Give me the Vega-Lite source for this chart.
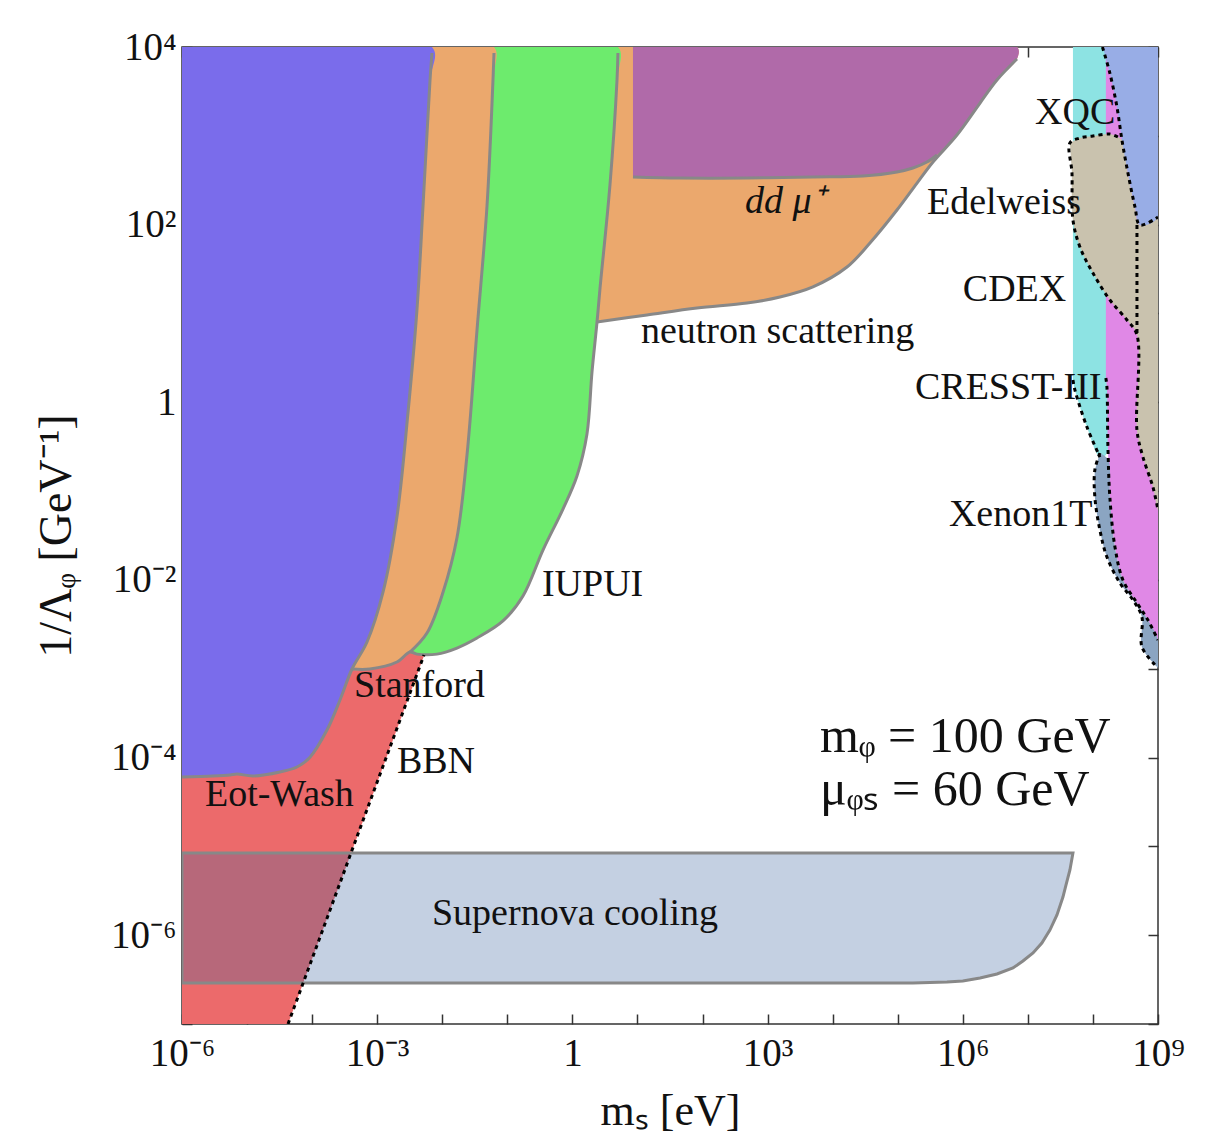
{
"$schema":"https://vega.github.io/schema/vega-lite/v6.json",
"width":976,"height":977,"autosize":"none",
"padding":{"left":182,"top":47,"right":50,"bottom":115},
"background":"white",
"config":{"view":{"stroke":"#333","strokeWidth":1.5},"font":"Liberation Serif",
 "axis":{"labelFont":"Liberation Serif","titleFont":"Liberation Serif","titleFontWeight":"normal","labelColor":"#111","titleColor":"#111","tickColor":"#333","domain":false,"grid":false}},
"datasets":{
"red":[
{"r":"01","i":0,"x":1e-6,"y":5.75e-4},{"r":"01","i":1,"x":4.1e-4,"y":1.43e-3},{"r":"01","i":2,"x":6.04e-3,"y":1.85e-3},{"r":"01","i":3,"x":4.26e-5,"y":1e-7},{"r":"01","i":4,"x":1e-6,"y":1e-7}
],
"polys":[
{"r":"02","i":0,"x":2.65,"y":1e4},{"r":"02","i":1,"x":6.8e6,"y":1e4},{"r":"02","i":2,"x":6.8e6,"y":7330},{"r":"02","i":3,"x":3.35e6,"y":4250},{"r":"02","i":4,"x":1.84e6,"y":2340},{"r":"02","i":5,"x":8.13e5,"y":1020},{"r":"02","i":6,"x":3.48e5,"y":507},{"r":"02","i":7,"x":1.98e5,"y":294},{"r":"02","i":8,"x":9.73e4,"y":146},{"r":"02","i":9,"x":3.74e4,"y":62.1},{"r":"02","i":10,"x":1.66e4,"y":33.3},{"r":"02","i":11,"x":4977,"y":19.9},{"r":"02","i":12,"x":1549,"y":15.3},{"r":"02","i":13,"x":482,"y":13.1},{"r":"02","i":14,"x":82.2,"y":11.5},{"r":"02","i":15,"x":14.0,"y":9.61},{"r":"02","i":16,"x":2.39,"y":8.01},{"r":"02","i":17,"x":1.86,"y":8.01},
{"r":"03","i":0,"x":8.53,"y":1e4},{"r":"03","i":1,"x":6.8e6,"y":1e4},{"r":"03","i":2,"x":6.8e6,"y":7330},{"r":"03","i":3,"x":3.35e6,"y":4250},{"r":"03","i":4,"x":1.84e6,"y":2340},{"r":"03","i":5,"x":8.13e5,"y":1020},{"r":"03","i":6,"x":4.01e5,"y":608},{"r":"03","i":7,"x":2.81e5,"y":507},{"r":"03","i":8,"x":1.71e5,"y":434},{"r":"03","i":9,"x":9.73e4,"y":392},{"r":"03","i":10,"x":2.92e4,"y":353},{"r":"03","i":11,"x":4977,"y":344},{"r":"03","i":12,"x":482,"y":335},{"r":"03","i":13,"x":45.0,"y":335},{"r":"03","i":14,"x":8.53,"y":344},
{"r":"04","i":0,"x":0.0624,"y":1e4},{"r":"04","i":1,"x":5.01,"y":1e4},{"r":"04","i":2,"x":4.84,"y":4140},{"r":"04","i":3,"x":3.78,"y":280},{"r":"04","i":4,"x":2.65,"y":18.8},{"r":"04","i":5,"x":2.39,"y":8.01},{"r":"04","i":6,"x":2.0,"y":2.19},{"r":"04","i":7,"x":1.675,"y":0.44},{"r":"04","i":8,"x":1.175,"y":0.148},{"r":"04","i":9,"x":0.716,"y":0.0628},{"r":"04","i":10,"x":0.353,"y":0.0217},{"r":"04","i":11,"x":0.174,"y":0.00659},{"r":"04","i":12,"x":0.0857,"y":0.00345},{"r":"04","i":13,"x":0.0342,"y":0.00222},{"r":"04","i":14,"x":0.0168,"y":0.00171},{"r":"04","i":15,"x":0.0083,"y":0.00146},{"r":"04","i":16,"x":0.00408,"y":0.00146},{"r":"04","i":17,"x":0.00319,"y":0.00154},{"r":"04","i":18,"x":0.00582,"y":0.00252},{"r":"04","i":19,"x":0.0103,"y":0.00731},{"r":"04","i":20,"x":0.0168,"y":0.0296},{"r":"04","i":21,"x":0.024,"y":0.255},{"r":"04","i":22,"x":0.0342,"y":6.51},{"r":"04","i":23,"x":0.0487,"y":162},{"r":"04","i":24,"x":0.0601,"y":4140},
{"r":"05","i":0,"x":0.00695,"y":1e4},{"r":"05","i":1,"x":0.0624,"y":1e4},{"r":"05","i":2,"x":0.0601,"y":4140},{"r":"05","i":3,"x":0.0487,"y":162},{"r":"05","i":4,"x":0.0342,"y":6.51},{"r":"05","i":5,"x":0.024,"y":0.255},{"r":"05","i":6,"x":0.0168,"y":0.0296},{"r":"05","i":7,"x":0.0103,"y":0.00731},{"r":"05","i":8,"x":0.00582,"y":0.00252},{"r":"05","i":9,"x":0.00319,"y":0.00154},{"r":"05","i":10,"x":0.00201,"y":0.00119},{"r":"05","i":11,"x":7.74e-4,"y":9.93e-4},{"r":"05","i":12,"x":4.1e-4,"y":9.93e-4},{"r":"05","i":13,"x":6.97e-4,"y":0.002},{"r":"05","i":14,"x":0.00123,"y":0.00731},{"r":"05","i":15,"x":0.00201,"y":0.0511},{"r":"05","i":16,"x":0.00297,"y":0.757},{"r":"05","i":17,"x":0.00408,"y":10.9},{"r":"05","i":18,"x":0.00506,"y":162},{"r":"05","i":19,"x":0.00647,"y":4140},
{"r":"06","i":0,"x":1e-6,"y":1e4},{"r":"06","i":1,"x":0.00695,"y":1e4},{"r":"06","i":2,"x":0.00647,"y":4140},{"r":"06","i":3,"x":0.00506,"y":162},{"r":"06","i":4,"x":0.00408,"y":10.9},{"r":"06","i":5,"x":0.00297,"y":0.757},{"r":"06","i":6,"x":0.00201,"y":0.0511},{"r":"06","i":7,"x":0.00123,"y":0.00731},{"r":"06","i":8,"x":6.97e-4,"y":0.002},{"r":"06","i":9,"x":4.1e-4,"y":9.93e-4},{"r":"06","i":10,"x":2.68e-4,"y":4.45e-4},{"r":"06","i":11,"x":1.69e-4,"y":2.04e-4},{"r":"06","i":12,"x":9.27e-5,"y":1.01e-4},{"r":"06","i":13,"x":5.85e-5,"y":7.83e-5},{"r":"06","i":14,"x":3.21e-5,"y":6.88e-5},{"r":"06","i":15,"x":1.23e-5,"y":6.2e-5},{"r":"06","i":16,"x":7.0e-6,"y":6.53e-5},{"r":"06","i":17,"x":5.47e-6,"y":6.37e-5},{"r":"06","i":18,"x":2.99e-6,"y":6.2e-5},{"r":"06","i":19,"x":1e-6,"y":6.04e-5},
{"r":"08","i":0,"x":4.93e7,"y":1e4},{"r":"08","i":1,"x":1.58e8,"y":1e4},{"r":"08","i":2,"x":1.58e8,"y":0.255},{"r":"08","i":3,"x":1.28e8,"y":0.242},{"r":"08","i":4,"x":8.09e7,"y":0.527},{"r":"08","i":5,"x":5.29e7,"y":1.37},{"r":"08","i":6,"x":4.93e7,"y":1.78},
{"r":"09","i":0,"x":1.58e8,"y":1e4},{"r":"09","i":1,"x":1e9,"y":1e4},{"r":"09","i":2,"x":1e9,"y":0.0021},{"r":"09","i":3,"x":7.0e8,"y":0.00354},{"r":"09","i":4,"x":4.75e8,"y":0.0055},{"r":"09","i":5,"x":2.89e8,"y":0.00998},{"r":"09","i":6,"x":2.18e8,"y":0.0235},{"r":"09","i":7,"x":1.82e8,"y":0.0857},{"r":"09","i":8,"x":1.7e8,"y":0.314},{"r":"09","i":9,"x":1.64e8,"y":1.49},{"r":"09","i":10,"x":1.58e8,"y":1.88},
{"r":"10","i":0,"x":4.43e7,"y":830},{"r":"10","i":1,"x":6.31e7,"y":945},{"r":"10","i":2,"x":1.0e8,"y":995},{"r":"10","i":3,"x":1.82e8,"y":1047},{"r":"10","i":4,"x":2.42e8,"y":970},{"r":"10","i":5,"x":2.79e8,"y":897},{"r":"10","i":6,"x":3.45e8,"y":382},{"r":"10","i":7,"x":4.43e8,"y":158},{"r":"10","i":8,"x":5.27e8,"y":99},{"r":"10","i":9,"x":1e9,"y":122},{"r":"10","i":10,"x":1e9,"y":0.0612},{"r":"10","i":11,"x":8.36e8,"y":0.111},{"r":"10","i":12,"x":5.87e8,"y":0.242},{"r":"10","i":13,"x":4.75e8,"y":0.487},{"r":"10","i":14,"x":4.75e8,"y":5.72},{"r":"10","i":15,"x":3.33e8,"y":8.44},{"r":"10","i":16,"x":1.82e8,"y":14.2},{"r":"10","i":17,"x":1.0e8,"y":28.5},{"r":"10","i":18,"x":6.31e7,"y":56.0},{"r":"10","i":19,"x":4.93e7,"y":113},{"r":"10","i":20,"x":4.76e7,"y":382},
{"r":"11","i":0,"x":1.4e8,"y":1e4},{"r":"11","i":1,"x":1e9,"y":1e4},{"r":"11","i":2,"x":1e9,"y":122},{"r":"11","i":3,"x":5.27e8,"y":99},{"r":"11","i":4,"x":4.43e8,"y":158},{"r":"11","i":5,"x":3.45e8,"y":382},{"r":"11","i":6,"x":2.79e8,"y":897},{"r":"11","i":7,"x":2.34e8,"y":2110},{"r":"11","i":8,"x":1.82e8,"y":5090},{"r":"11","i":9,"x":1.43e8,"y":9750},
{"r":"12","i":0,"x":1.28e8,"y":0.268},{"r":"12","i":1,"x":1.72e8,"y":0.224},{"r":"12","i":2,"x":1.82e8,"y":0.0857},{"r":"12","i":3,"x":2.18e8,"y":0.0235},{"r":"12","i":4,"x":2.89e8,"y":0.00998},{"r":"12","i":5,"x":4.75e8,"y":0.0055},{"r":"12","i":6,"x":7.0e8,"y":0.00354},{"r":"12","i":7,"x":1e9,"y":0.0021},{"r":"12","i":8,"x":1e9,"y":0.00102},{"r":"12","i":9,"x":9.64e8,"y":0.00105},{"r":"12","i":10,"x":5.66e8,"y":0.00176},{"r":"12","i":11,"x":5.66e8,"y":0.00382},{"r":"12","i":12,"x":4.12e8,"y":0.00594},{"r":"12","i":13,"x":2.6e8,"y":0.00923},{"r":"12","i":14,"x":1.64e8,"y":0.0181},{"r":"12","i":15,"x":1.28e8,"y":0.0364},{"r":"12","i":16,"x":1.07e8,"y":0.0857},{"r":"12","i":17,"x":1.07e8,"y":0.173}
],
"sn":[
{"i":0,"x":1e-6,"y":8.42e-6},{"i":1,"x":4.93e7,"y":8.42e-6},{"i":2,"x":4.43e7,"y":5.42e-6},{"i":3,"x":3.85e7,"y":3.67e-6},{"i":4,"x":3.46e7,"y":2.69e-6},{"i":5,"x":2.8e7,"y":1.69e-6},{"i":6,"x":2.18e7,"y":1.14e-6},{"i":7,"x":1.64e7,"y":8.16e-7},{"i":8,"x":1.2e7,"y":6.3e-7},{"i":9,"x":8.4e6,"y":5.12e-7},{"i":10,"x":5.9e6,"y":4.27e-7},{"i":11,"x":3.35e6,"y":3.66e-7},{"i":12,"x":1.84e6,"y":3.3e-7},{"i":13,"x":1.0e6,"y":3.05e-7},{"i":14,"x":5.71e5,"y":2.97e-7},{"i":15,"x":1.71e5,"y":2.89e-7},{"i":16,"x":1e-6,"y":2.89e-7}
],
"grey":[
{"g":"g1","i":0,"x":0.00695,"y":8560},{"g":"g1","i":1,"x":0.00647,"y":4140},{"g":"g1","i":2,"x":0.00506,"y":162},{"g":"g1","i":3,"x":0.00408,"y":10.9},{"g":"g1","i":4,"x":0.00297,"y":0.757},{"g":"g1","i":5,"x":0.00201,"y":0.0511},{"g":"g1","i":6,"x":0.00123,"y":0.00731},{"g":"g1","i":7,"x":6.97e-4,"y":0.002},{"g":"g1","i":8,"x":4.1e-4,"y":9.93e-4},{"g":"g1","i":9,"x":2.68e-4,"y":4.45e-4},{"g":"g1","i":10,"x":1.69e-4,"y":2.04e-4},{"g":"g1","i":11,"x":9.27e-5,"y":1.01e-4},{"g":"g1","i":12,"x":5.85e-5,"y":7.83e-5},{"g":"g1","i":13,"x":3.21e-5,"y":6.88e-5},{"g":"g1","i":14,"x":1.23e-5,"y":6.2e-5},{"g":"g1","i":15,"x":7.0e-6,"y":6.53e-5},{"g":"g1","i":16,"x":5.47e-6,"y":6.37e-5},{"g":"g1","i":17,"x":2.99e-6,"y":6.2e-5},{"g":"g1","i":18,"x":1e-6,"y":6.04e-5},
{"g":"g2","i":0,"x":0.0624,"y":8560},{"g":"g2","i":1,"x":0.0601,"y":4140},{"g":"g2","i":2,"x":0.0487,"y":162},{"g":"g2","i":3,"x":0.0342,"y":6.51},{"g":"g2","i":4,"x":0.024,"y":0.255},{"g":"g2","i":5,"x":0.0168,"y":0.0296},{"g":"g2","i":6,"x":0.0103,"y":0.00731},{"g":"g2","i":7,"x":0.00582,"y":0.00252},{"g":"g2","i":8,"x":0.00319,"y":0.00154},
{"g":"g3","i":0,"x":4.1e-4,"y":9.93e-4},{"g":"g3","i":1,"x":7.74e-4,"y":9.93e-4},{"g":"g3","i":2,"x":0.00201,"y":0.00119},{"g":"g3","i":3,"x":0.00319,"y":0.00154},{"g":"g3","i":4,"x":0.00408,"y":0.00146},{"g":"g3","i":5,"x":0.0083,"y":0.00146},{"g":"g3","i":6,"x":0.0168,"y":0.00171},{"g":"g3","i":7,"x":0.0342,"y":0.00222},{"g":"g3","i":8,"x":0.0857,"y":0.00345},{"g":"g3","i":9,"x":0.174,"y":0.00659},{"g":"g3","i":10,"x":0.353,"y":0.0217},{"g":"g3","i":11,"x":0.716,"y":0.0628},{"g":"g3","i":12,"x":1.175,"y":0.148},{"g":"g3","i":13,"x":1.675,"y":0.44},{"g":"g3","i":14,"x":2.0,"y":2.19},{"g":"g3","i":15,"x":2.39,"y":8.01},{"g":"g3","i":16,"x":2.65,"y":18.8},{"g":"g3","i":17,"x":3.78,"y":280},{"g":"g3","i":18,"x":4.84,"y":4140},{"g":"g3","i":19,"x":5.01,"y":8560},
{"g":"g4","i":0,"x":2.39,"y":8.01},{"g":"g4","i":1,"x":14.0,"y":9.61},{"g":"g4","i":2,"x":82.2,"y":11.5},{"g":"g4","i":3,"x":482,"y":13.1},{"g":"g4","i":4,"x":1549,"y":15.3},{"g":"g4","i":5,"x":4977,"y":19.9},{"g":"g4","i":6,"x":1.66e4,"y":33.3},{"g":"g4","i":7,"x":3.74e4,"y":62.1},{"g":"g4","i":8,"x":9.73e4,"y":146},{"g":"g4","i":9,"x":1.98e5,"y":294},{"g":"g4","i":10,"x":3.48e5,"y":507},{"g":"g4","i":11,"x":8.13e5,"y":1020},{"g":"g4","i":12,"x":1.84e6,"y":2340},{"g":"g4","i":13,"x":3.35e6,"y":4250},{"g":"g4","i":14,"x":6.8e6,"y":7330},
{"g":"g5","i":0,"x":8.53,"y":344},{"g":"g5","i":1,"x":45.0,"y":335},{"g":"g5","i":2,"x":482,"y":335},{"g":"g5","i":3,"x":4977,"y":344},{"g":"g5","i":4,"x":2.92e4,"y":353},{"g":"g5","i":5,"x":9.73e4,"y":392},{"g":"g5","i":6,"x":1.71e5,"y":434},{"g":"g5","i":7,"x":2.81e5,"y":507},{"g":"g5","i":8,"x":4.01e5,"y":608}
],
"dots":[
{"g":"d2","i":0,"x":1.4e8,"y":1e4},{"g":"d2","i":1,"x":1.82e8,"y":5090},{"g":"d2","i":2,"x":2.34e8,"y":2110},{"g":"d2","i":3,"x":2.79e8,"y":897},{"g":"d2","i":4,"x":3.45e8,"y":382},{"g":"d2","i":5,"x":4.43e8,"y":158},{"g":"d2","i":6,"x":5.27e8,"y":99},{"g":"d2","i":7,"x":1e9,"y":122},
{"g":"d3","i":0,"x":2.42e8,"y":970},{"g":"d3","i":1,"x":1.82e8,"y":1047},{"g":"d3","i":2,"x":1.0e8,"y":995},{"g":"d3","i":3,"x":6.31e7,"y":945},{"g":"d3","i":4,"x":4.43e7,"y":830},{"g":"d3","i":5,"x":4.76e7,"y":382},{"g":"d3","i":6,"x":4.93e7,"y":113},{"g":"d3","i":7,"x":6.31e7,"y":56.0},{"g":"d3","i":8,"x":1.0e8,"y":28.5},{"g":"d3","i":9,"x":1.82e8,"y":14.2},{"g":"d3","i":10,"x":3.33e8,"y":8.44},{"g":"d3","i":11,"x":4.75e8,"y":5.72},{"g":"d3","i":12,"x":4.75e8,"y":0.487},{"g":"d3","i":13,"x":5.87e8,"y":0.242},{"g":"d3","i":14,"x":8.36e8,"y":0.111},{"g":"d3","i":15,"x":1e9,"y":0.0612},
{"g":"d4","i":0,"x":4.75e8,"y":99},{"g":"d4","i":1,"x":4.75e8,"y":5.72},
{"g":"d5","i":0,"x":4.93e7,"y":1.78},{"g":"d5","i":1,"x":5.29e7,"y":1.37},{"g":"d5","i":2,"x":8.09e7,"y":0.527},{"g":"d5","i":3,"x":1.28e8,"y":0.242},
{"g":"d6","i":0,"x":1.58e8,"y":1.88},{"g":"d6","i":1,"x":1.64e8,"y":1.49},{"g":"d6","i":2,"x":1.7e8,"y":0.314},{"g":"d6","i":3,"x":1.82e8,"y":0.0857},{"g":"d6","i":4,"x":2.18e8,"y":0.0235},{"g":"d6","i":5,"x":2.89e8,"y":0.00998},{"g":"d6","i":6,"x":4.75e8,"y":0.0055},{"g":"d6","i":7,"x":7.0e8,"y":0.00354},{"g":"d6","i":8,"x":1e9,"y":0.0021},
{"g":"d7","i":0,"x":1.28e8,"y":0.268},{"g":"d7","i":1,"x":1.07e8,"y":0.173},{"g":"d7","i":2,"x":1.07e8,"y":0.0857},{"g":"d7","i":3,"x":1.28e8,"y":0.0364},{"g":"d7","i":4,"x":1.64e8,"y":0.0181},{"g":"d7","i":5,"x":2.6e8,"y":0.00923},{"g":"d7","i":6,"x":4.12e8,"y":0.00594},{"g":"d7","i":7,"x":5.66e8,"y":0.00382},{"g":"d7","i":8,"x":5.66e8,"y":0.00176},{"g":"d7","i":9,"x":9.64e8,"y":0.00105}
],
"bbn":[{"i":0,"x":4.26e-5,"y":1e-7},{"i":1,"x":0.00524,"y":0.00143}],
"labels":[
{"x":2.81e5,"y":175,"t":"Edelweiss"},{"x":1.0e6,"y":18.4,"t":"CDEX"},{"x":11.3,"y":6.18,"t":"neutron scattering"},{"x":1.84e5,"y":1.45,"t":"CRESST-III"},{"x":1.29e7,"y":1807,"t":"XQC"},{"x":6.12e5,"y":0.0538,"t":"Xenon1T"},{"x":0.34,"y":0.00877,"t":"IUPUI"},{"x":4.4e-4,"y":6.38e-4,"t":"Stanford"},{"x":0.00201,"y":8.91e-5,"t":"BBN"},{"x":2.25e-6,"y":3.79e-5,"t":"Eot-Wash"},{"x":0.00695,"y":1.73e-6,"t":"Supernova cooling"}
],
"ital":[{"x":449,"y":180,"t":"dd μ⁺"}],
"math":[{"x":6380,"y":1.7e-4,"t":"mᵩ = 100 GeV"},{"x":6380,"y":4.31e-5,"t":"μᵩₛ = 60 GeV"}]
},
"encoding":{
 "x":{"field":"x","type":"quantitative","scale":{"type":"log","domain":[1e-6,1e9],"nice":false},"axis":null},
 "y":{"field":"y","type":"quantitative","scale":{"type":"log","domain":[1e-7,1e4],"nice":false},"axis":null}
},
"layer":[
{"data":{"name":"red"},
 "mark":{"type":"line","filled":true,"interpolate":"linear-closed","strokeWidth":0,"fill":"#ec6a6b","clip":true},
 "encoding":{
  "x":{"field":"x","type":"quantitative","scale":{"type":"log","domain":[1e-6,1e9],"nice":false},
   "axis":{"orient":"bottom","values":[1e-6,1e-5,1e-4,1e-3,1e-2,1e-1,1,10,100,1000,1e4,1e5,1e6,1e7,1e8,1e9],
    "labelExpr":"['10⁻⁶','','','10⁻³','','','1','','','10³','','','10⁶','','','10⁹'][round(log(datum.value)/LN10)+6]",
    "labelOverlap":false,"labelFlush":false,"tickSize":-10,"tickWidth":1.5,"labelFontSize":39,"labelPadding":20,
    "title":"mₛ [eV]","titleFontSize":44,"titlePadding":16}},
  "y":{"field":"y","type":"quantitative","scale":{"type":"log","domain":[1e-7,1e4],"nice":false},
   "axis":{"orient":"left","values":[1e-7,1e-6,1e-5,1e-4,1e-3,1e-2,1e-1,1,10,100,1000,1e4],
    "labelExpr":"['','10⁻⁶','','10⁻⁴','','10⁻²','','1','','10²','','10⁴'][round(log(datum.value)/LN10)+7]",
    "labelOverlap":false,"labelFlush":false,"tickSize":-10,"tickWidth":1.5,"labelFontSize":39,"labelPadding":16,
    "title":"1/Λᵩ [GeV⁻¹]","titleFontSize":46,"titlePadding":30}},
  "order":{"field":"i","type":"quantitative"}
 }},
{"data":{"name":"polys"},
 "mark":{"type":"line","filled":true,"interpolate":"catmull-rom","strokeWidth":0,"clip":true},
 "encoding":{
  "detail":{"field":"r"},
  "order":{"field":"i","type":"quantitative"},
  "fill":{"field":"r","type":"nominal","legend":null,
   "scale":{"domain":["02","03","04","05","06","08","09","10","11","12"],
    "range":["#eba86d","#b06aa9","#6deb6d","#eba86d","#7a6ceb","#8de3e3","#e088e6","#c9c2ae","#98ade6","#8ba5c2"]}}
 }},
{"data":{"name":"sn"},
 "mark":{"type":"line","filled":true,"interpolate":"linear-closed","fill":"#3a64a0","fillOpacity":0.3,"stroke":"#888888","strokeWidth":3,"clip":true},
 "encoding":{"order":{"field":"i","type":"quantitative"}}},
{"data":{"name":"grey"},
 "mark":{"type":"line","stroke":"#888888","strokeWidth":3,"interpolate":"catmull-rom","clip":true},
 "encoding":{
  "x":{"field":"x","type":"quantitative","scale":{"type":"log","domain":[1e-6,1e9],"nice":false},
   "axis":{"orient":"top","values":[1e-6,1e-5,1e-4,1e-3,1e-2,1e-1,1,10,100,1000,1e4,1e5,1e6,1e7,1e8,1e9],"labels":false,"tickSize":-10,"tickWidth":1.5,"title":null}},
  "y":{"field":"y","type":"quantitative","scale":{"type":"log","domain":[1e-7,1e4],"nice":false},
   "axis":{"orient":"right","values":[1e-7,1e-6,1e-5,1e-4,1e-3,1e-2,1e-1,1,10,100,1000,1e4],"labels":false,"tickSize":-10,"tickWidth":1.5,"title":null}},
  "detail":{"field":"g"},"order":{"field":"i","type":"quantitative"}}},
{"data":{"name":"dots"},
 "mark":{"type":"line","stroke":"#000000","strokeWidth":3,"strokeDash":[4,4],"interpolate":"catmull-rom","clip":true},
 "encoding":{"detail":{"field":"g"},"order":{"field":"i","type":"quantitative"}}},
{"data":{"name":"bbn"},
 "mark":{"type":"line","stroke":"#000000","strokeWidth":3,"strokeDash":[4,4],"clip":true},
 "encoding":{"order":{"field":"i","type":"quantitative"}}},
{"data":{"name":"labels"},
 "mark":{"type":"text","align":"left","baseline":"middle","fontSize":38,"font":"Liberation Serif","color":"#111"},
 "encoding":{"text":{"field":"t"}}},
{"data":{"name":"ital"},
 "mark":{"type":"text","align":"left","baseline":"middle","fontSize":38,"fontStyle":"italic","font":"Liberation Serif","color":"#111"},
 "encoding":{"text":{"field":"t"}}},
{"data":{"name":"math"},
 "mark":{"type":"text","align":"left","baseline":"middle","fontSize":50,"font":"Liberation Serif","color":"#111"},
 "encoding":{"text":{"field":"t"}}}
],
"resolve":{"axis":{"x":"independent","y":"independent"}}
}
